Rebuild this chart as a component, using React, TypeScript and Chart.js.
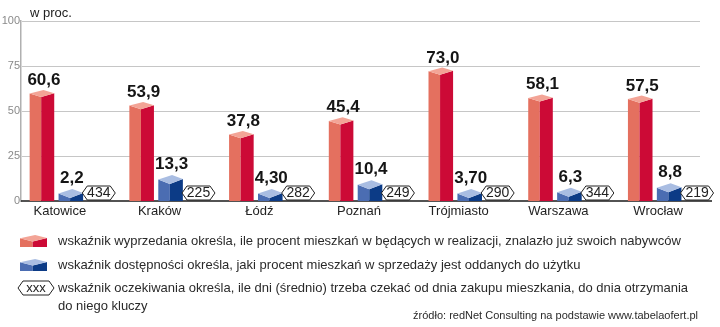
import React, { useEffect, useRef } from "react";
import { Chart, registerables } from "chart.js";

Chart.register(...registerables);

const categories = ["Katowice", "Kraków", "Łódź", "Poznań", "Trójmiasto", "Warszawa", "Wrocław"];
const sellValues = [60.6, 53.9, 37.8, 45.4, 73.0, 58.1, 57.5];
const sellLabels = ["60,6", "53,9", "37,8", "45,4", "73,0", "58,1", "57,5"];
const availValues = [2.2, 13.3, 4.3, 10.4, 3.7, 6.3, 8.8];
const availLabels = ["2,2", "13,3", "4,30", "10,4", "3,70", "6,3", "8,8"];
const waitDays = [434, 225, 282, 249, 290, 344, 219];
const yTicks = [0, 25, 50, 75, 100];

const legendTexts = [
  "wskaźnik wyprzedania określa, ile procent mieszkań w będących w realizacji, znalazło już swoich nabywców",
  "wskaźnik dostępności określa, jaki procent mieszkań w sprzedaży jest oddanych do użytku",
  "wskaźnik oczekiwania określa, ile dni (średnio) trzeba czekać od dnia zakupu mieszkania, do dnia otrzymania",
  "do niego kluczy",
];
const sourceText = "źródło: redNet Consulting na podstawie www.tabelaofert.pl";
const unitText = "w proc.";

const FONT = '"Liberation Sans", Arial, sans-serif';
const RED = { left: "#e4705f", right: "#cc0a36", top: "#f3a496" };
const BLUE = { left: "#4b6db2", right: "#0c3b86", top: "#a9bde2" };

function drawBox(ctx: CanvasRenderingContext2D, xL: number, xR: number, yTop: number, yBase: number, d: number, c: any) {
  const w = xR - xL;
  const xm = xL + w * 0.47;
  const xb = xL + w * 0.56;
  const top = Math.min(yTop, yBase - 2 * d - 3);
  // left face
  ctx.fillStyle = c.left;
  ctx.beginPath();
  ctx.moveTo(xL, top + d);
  ctx.lineTo(xm, top + 2 * d);
  ctx.lineTo(xm, yBase);
  ctx.lineTo(xL, yBase);
  ctx.closePath();
  ctx.fill();
  // right face
  ctx.fillStyle = c.right;
  ctx.beginPath();
  ctx.moveTo(xm, top + 2 * d);
  ctx.lineTo(xR, top + d * 0.9);
  ctx.lineTo(xR, yBase);
  ctx.lineTo(xm, yBase);
  ctx.closePath();
  ctx.fill();
  // top face
  ctx.fillStyle = c.top;
  ctx.beginPath();
  ctx.moveTo(xL, top + d);
  ctx.lineTo(xb, top);
  ctx.lineTo(xR, top + d * 0.9);
  ctx.lineTo(xm, top + 2 * d);
  ctx.closePath();
  ctx.fill();
  return top;
}

function drawHex(ctx: CanvasRenderingContext2D, cx: number, cy: number, w: number, h: number, text: string, font: string) {
  const p = 5;
  ctx.beginPath();
  ctx.moveTo(cx - w / 2, cy);
  ctx.lineTo(cx - w / 2 + p, cy - h / 2);
  ctx.lineTo(cx + w / 2 - p, cy - h / 2);
  ctx.lineTo(cx + w / 2, cy);
  ctx.lineTo(cx + w / 2 - p, cy + h / 2);
  ctx.lineTo(cx - w / 2 + p, cy + h / 2);
  ctx.closePath();
  ctx.fillStyle = "#ffffff";
  ctx.fill();
  ctx.strokeStyle = "#222222";
  ctx.lineWidth = 1;
  ctx.stroke();
  ctx.fillStyle = "#222222";
  ctx.font = font;
  ctx.textAlign = "center";
  ctx.textBaseline = "middle";
  ctx.fillText(text, cx, cy + 0.5);
}

const decorPlugin = {
  id: "decor",
  beforeDatasetsDraw(chart: any) {
    const { ctx, chartArea, scales } = chart;
    const y = scales.y;
    ctx.save();
    ctx.strokeStyle = "#c6c6c6";
    ctx.lineWidth = 1;
    for (const t of yTicks) {
      if (t === 0) continue;
      const py = Math.round(y.getPixelForValue(t)) + 0.5;
      ctx.beginPath();
      ctx.moveTo(chartArea.left + 1, py);
      ctx.lineTo(700, py);
      ctx.stroke();
    }
    const y0 = y.getPixelForValue(0);
    ctx.strokeStyle = "#1a1a1a";
    ctx.lineWidth = 1.5;
    ctx.beginPath();
    ctx.moveTo(chartArea.left, y0);
    ctx.lineTo(712, y0);
    ctx.stroke();
    ctx.restore();
  },
  afterDatasetsDraw(chart: any) {
    const ctx: CanvasRenderingContext2D = chart.ctx;
    const y0 = chart.scales.y.getPixelForValue(0);
    const m0 = chart.getDatasetMeta(0);
    const m1 = chart.getDatasetMeta(1);
    const m2 = chart.getDatasetMeta(2);
    ctx.save();
    for (let i = 0; i < categories.length; i++) {
      const r: any = m0.data[i];
      const b: any = m1.data[i];
      const h: any = m2.data[i];
      const rTop = drawBox(ctx, r.x - r.width / 2, r.x + r.width / 2, r.y - 2, y0, 3.6, RED);
      const bTop = drawBox(ctx, b.x - b.width / 2, b.x + b.width / 2, b.y - 2, y0, 4.5, BLUE);
      ctx.fillStyle = "#151515";
      ctx.font = "bold 17px " + FONT;
      ctx.textAlign = "center";
      ctx.textBaseline = "alphabetic";
      ctx.fillText(sellLabels[i], r.x + 2, rTop - 5);
      ctx.fillText(availLabels[i], b.x + 1, bTop - 6);
      drawHex(ctx, h.x - 1, y0 - 8, 33, 14, String(waitDays[i]), "14px " + FONT);
    }
    ctx.restore();
  },
  afterDraw(chart: any) {
    const ctx: CanvasRenderingContext2D = chart.ctx;
    ctx.save();
    ctx.fillStyle = "#222222";
    ctx.font = "13px " + FONT;
    ctx.textAlign = "left";
    ctx.textBaseline = "middle";
    ctx.fillText(unitText, 30, 13);
    // legend icons
    drawBox(ctx, 20, 47, 235, 247, 3.2, RED);
    drawBox(ctx, 20, 47, 259, 271, 3.2, BLUE);
    drawHex(ctx, 36, 288, 36, 14, "xxx", "13px " + FONT);
    ctx.fillStyle = "#2a2a2a";
    ctx.font = "13px " + FONT;
    ctx.textAlign = "left";
    ctx.textBaseline = "middle";
    const rows = [241, 265, 288, 306];
    legendTexts.forEach((t, i) => ctx.fillText(t, 58, rows[i]));
    ctx.font = "11px " + FONT;
    ctx.textAlign = "right";
    ctx.fillText(sourceText, 698, 316);
    ctx.restore();
  },
};

export default function App() {
  const ref = useRef<HTMLCanvasElement | null>(null);
  useEffect(() => {
    if (!ref.current) return;
    const chart = new Chart(ref.current, {
      type: "bar",
      data: {
        labels: categories,
        datasets: [
          { label: "wyprzedanie", data: sellValues, backgroundColor: "rgba(0,0,0,0)", yAxisID: "y" },
          { label: "dostępność", data: availValues, backgroundColor: "rgba(0,0,0,0)", yAxisID: "y" },
          { label: "oczekiwanie", data: waitDays, backgroundColor: "rgba(0,0,0,0)", yAxisID: "y2" },
        ],
      },
      options: {
        animation: false,
        responsive: true,
        maintainAspectRatio: false,
        events: [],
        categoryPercentage: 0.87,
        barPercentage: 0.85,
        layout: { padding: { top: 21, left: 0, right: 1, bottom: 106 } },
        plugins: { legend: { display: false }, tooltip: { enabled: false } },
        scales: {
          x: {
            grid: { display: false, drawTicks: false },
            border: { display: false },
            ticks: {
              autoSkip: false,
              maxRotation: 0,
              padding: 3,
              labelOffset: -11,
              color: "#222222",
              font: { family: FONT, size: 13 },
            },
            afterFit: (s: any) => { s.height = 20; },
          },
          y: {
            min: 0,
            max: 100,
            ticks: { stepSize: 25, padding: 1, color: "#8a8a8a", font: { family: FONT, size: 11 } },
            grid: { display: false, drawTicks: false },
            border: { display: true, color: "#b0b0b0", width: 1.5 },
            afterFit: (s: any) => { s.width = 21; },
          },
          y2: { display: false, min: 0, max: 1000 },
        },
      },
      plugins: [decorPlugin],
    } as any);
    return () => chart.destroy();
  }, []);
  return (
    <div style={{ position: "absolute", left: 0, top: 0, width: 720, height: 327, background: "#fff" }}>
      <canvas ref={ref} />
    </div>
  );
}
